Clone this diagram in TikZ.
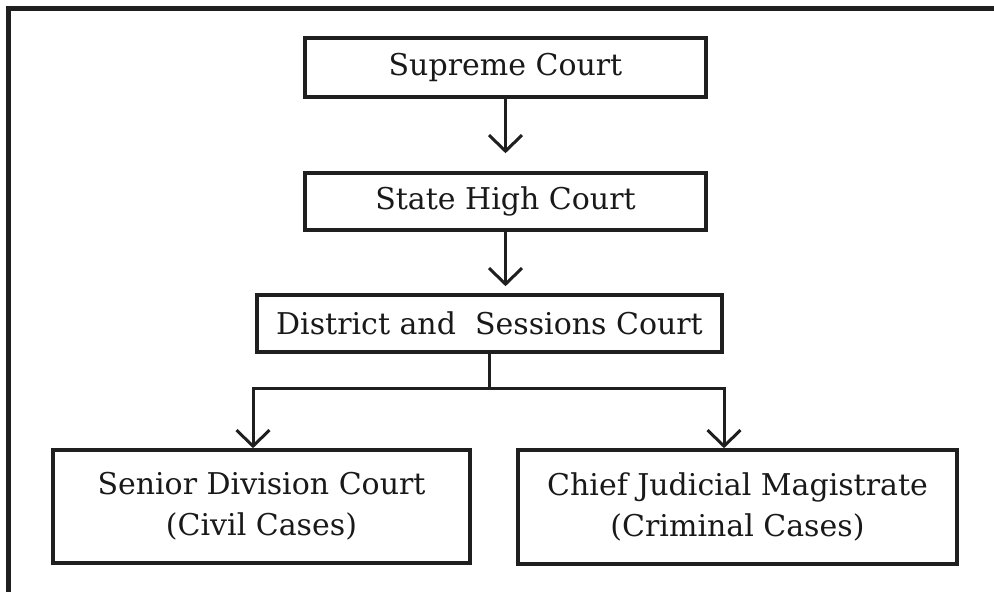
\documentclass[tikz,border=0pt]{standalone}
\usepackage{fontspec}
\setmainfont{DejaVu Serif}
\usetikzlibrary{arrows.meta}
\begin{document}
\begin{tikzpicture}[x=1pt,y=-1pt,
  court/.style={draw=black!88, line width=3.6pt, inner sep=0pt, align=center,
    font=\fontsize{30}{41}\selectfont, text=black!90},
  link/.style={draw=black!88, line width=3pt},
  arr/.style={link, -{Straight Barb[length=16pt,width=33pt,line width=3pt]}}]
\useasboundingbox (0,0) rectangle (994,592);
% outer frame (top and left sides only)
\draw[black!88, line width=4.5pt] (8.5,592) -- (8.5,8.5) -- (994,8.5);
% boxes
\node[court, minimum width=401pt, minimum height=59pt] (sc) at (505.5,67.5) {Supreme Court};
\node[court, minimum width=401pt, minimum height=57pt] (shc) at (505.5,201.5) {State High Court};
\node[court, minimum width=465pt, minimum height=57pt] (dsc) at (489.5,323.5) {District and\ \ Sessions Court};
\node[court, minimum width=417pt, minimum height=113pt] (sdc) at (261.5,506.5) {Senior Division Court\\(Civil Cases)};
\node[court, minimum width=439pt, minimum height=114pt] (cjm) at (737.5,507) {Chief Judicial Magistrate\\(Criminal Cases)};
% junction points
\coordinate (jl) at (253,388);
\coordinate (jr) at (724,388);
% connectors
\draw[arr] (sc.south) -- ([yshift=18pt]shc.north);
\draw[arr] (shc.south) -- ([yshift=7pt]shc.south |- dsc.north);
\draw[arr] (dsc.south) -- (dsc.south |- jl) -- (jl) -- (jl |- sdc.north);
\draw[arr] (dsc.south |- jl) -- (jr) -- (jr |- cjm.north);
\end{tikzpicture}
\end{document}
